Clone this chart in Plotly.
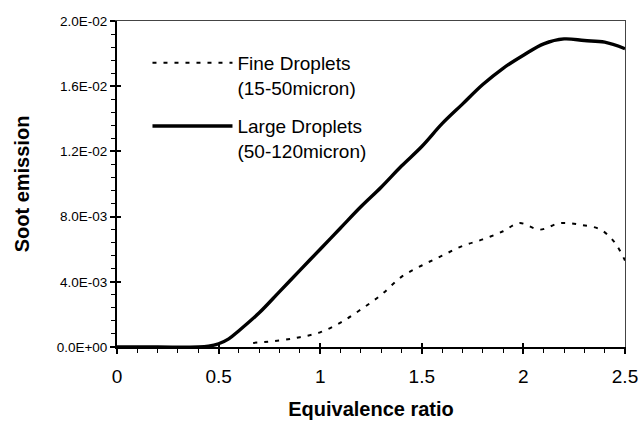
import plotly.graph_objects as go

# Data
large_x = [0.0, 0.2, 0.4, 0.45, 0.5, 0.55, 0.6, 0.7, 0.8, 0.9, 1.0, 1.1, 1.2, 1.3, 1.4, 1.5,
           1.6, 1.7, 1.8, 1.9, 2.0, 2.1, 2.2, 2.3, 2.4, 2.5]
large_y = [0.0, 0.0, 0.0, 0.00005, 0.0002, 0.0005, 0.0010, 0.0021, 0.0034, 0.0047, 0.0060, 0.0073,
           0.0086, 0.0098, 0.0111, 0.0123, 0.0137, 0.0149, 0.0161, 0.0171, 0.0179, 0.0186, 0.0189,
           0.0188, 0.0187, 0.0183]

fine_x = [0.67, 0.80, 0.90, 1.0, 1.10, 1.20, 1.30, 1.40, 1.50, 1.60, 1.70, 1.80, 1.90, 1.98,
          2.08, 2.18, 2.28, 2.38, 2.45, 2.5]
fine_y = [0.00025, 0.0004, 0.0006, 0.0009, 0.0015, 0.0023, 0.0032, 0.0043, 0.0050, 0.0056, 0.0062,
          0.0066, 0.0071, 0.0076, 0.0072, 0.0076, 0.0075, 0.0072, 0.0064, 0.0053]

y_tickvals = [0, 0.004, 0.008, 0.012, 0.016, 0.02]
y_ticktext = ["0.0E+00", "4.0E-03", "8.0E-03", "1.2E-02", "1.6E-02", "2.0E-02"]
x_tickvals = [0, 0.5, 1, 1.5, 2, 2.5]
x_ticktext = ["0", "0.5", "1", "1.5", "2", "2.5"]

FONT = "Liberation Sans, Arial, sans-serif"

fig = go.Figure()
fig.add_trace(go.Scatter(x=fine_x, y=fine_y, mode="lines", name="Fine Droplets<br>(15-50micron)",
                         legendgroup="a",
                         line=dict(color="black", width=2, dash="4px,7px"), line_shape="spline"))
fig.add_trace(go.Scatter(x=large_x, y=large_y, mode="lines", name="Large Droplets<br>(50-120micron)",
                         legendgroup="b",
                         line=dict(color="black", width=3.4), line_shape="spline"))
# invisible helper traces for overlay axes (inside major ticks, thin frame)
fig.add_trace(go.Scatter(x=[0, 2.5], y=[0, 0.02], mode="markers", marker=dict(opacity=0),
                         xaxis="x2", yaxis="y2", showlegend=False, hoverinfo="skip"))
fig.add_trace(go.Scatter(x=[0, 2.5], y=[0, 0.02], mode="markers", marker=dict(opacity=0),
                         xaxis="x3", yaxis="y3", showlegend=False, hoverinfo="skip"))

common_hidden = dict(showgrid=False, zeroline=False, showticklabels=False, automargin=False)

fig.update_layout(
    width=641, height=423,
    margin=dict(l=117, r=16, t=21, b=76),
    paper_bgcolor="white", plot_bgcolor="white",
    font=dict(family=FONT, color="black"),
    showlegend=True,
    legend=dict(x=0.06, y=0.93, xanchor="left", yanchor="top", bgcolor="rgba(0,0,0,0)",
                font=dict(size=19, family=FONT), itemwidth=80, valign="top",
                traceorder="grouped", tracegroupgap=11),
    xaxis=dict(range=[0, 2.5], tickvals=x_tickvals, ticktext=x_ticktext, automargin=False,
               ticks="outside", ticklen=5, tickwidth=1.5, tickcolor="black",
               tickfont=dict(size=19), ticklabelstandoff=6, showgrid=False, zeroline=False,
               showline=True, linecolor="black", linewidth=2,
               minor=dict(dtick=0.1, tick0=0, ticks="outside", ticklen=4, tickwidth=1, tickcolor="black",
                          showgrid=False),
               title=dict(text="<b>Equivalence ratio</b>", font=dict(size=20), standoff=16)),
    yaxis=dict(range=[0, 0.02], tickvals=y_tickvals, ticktext=y_ticktext, automargin=False,
               ticks="outside", ticklen=5, tickwidth=1.5, tickcolor="black",
               tickfont=dict(size=13.5), showgrid=False, zeroline=False,
               showline=True, linecolor="black", linewidth=2,
               minor=dict(dtick=0.0008, tick0=0, ticks="outside", ticklen=4, tickwidth=1, tickcolor="black",
                          showgrid=False),
               title=dict(text="<b>Soot emission</b>", font=dict(size=20), standoff=22)),
    xaxis2=dict(range=[0, 2.5], overlaying="x", tickvals=x_tickvals, ticks="inside", ticklen=4,
                tickwidth=1.5, tickcolor="black", showline=False, anchor="y2", side="bottom",
                **common_hidden),
    yaxis2=dict(range=[0, 0.02], overlaying="y", tickvals=y_tickvals, ticks="inside", ticklen=4,
                tickwidth=1.5, tickcolor="black", showline=False, anchor="x2", side="left",
                **common_hidden),
    xaxis3=dict(range=[0, 2.5], overlaying="x", ticks="", showline=True, linecolor="#444",
                linewidth=1.3, anchor="y3", side="top", **common_hidden),
    yaxis3=dict(range=[0, 0.02], overlaying="y", ticks="", showline=True, linecolor="#444",
                linewidth=1.3, anchor="x3", side="right", **common_hidden),
)

fig.write_html("out.html")
